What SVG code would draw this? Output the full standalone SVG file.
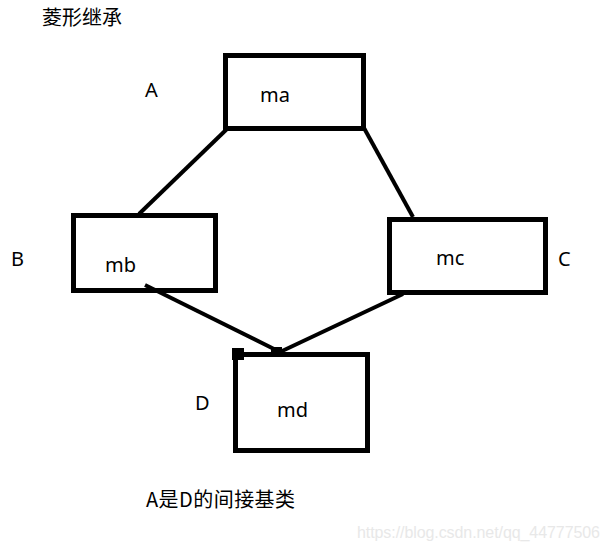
<svg xmlns="http://www.w3.org/2000/svg" width="611" height="553" viewBox="0 0 611 553">
<style>
.box{fill:none;stroke:#000;stroke-width:5}
.ln{stroke:#000;stroke-width:4;fill:none}
.t{font-family:"Noto Sans","Noto Sans CJK SC",sans-serif;font-size:20px;fill:#000}
.c{font-family:"Noto Sans CJK SC","Noto Sans",sans-serif;font-size:20px;fill:#000}
.w{font-family:"Liberation Sans",Arial,sans-serif;font-size:16px;fill:#e8e8e8}
</style>
<rect width="611" height="553" fill="#fff"/>
<text class="c" x="42" y="25">菱形继承</text>
<g id="connectors">
<line class="ln" x1="228" y1="128" x2="139" y2="214"/>
<line class="ln" x1="364" y1="128" x2="413" y2="217"/>
<line class="ln" x1="145" y1="285" x2="278" y2="351"/>
<line class="ln" x1="403" y1="294" x2="280" y2="352"/>
<rect x="271" y="347" width="11" height="6" fill="#000"/>
</g>
<g id="A">
<rect class="box" x="225.5" y="55.5" width="138" height="73"/>
<text class="t" x="260" y="102">ma</text>
<text class="t" x="145" y="97">A</text>
</g>
<g id="B">
<rect class="box" x="73.5" y="215.5" width="142" height="75"/>
<text class="t" x="105" y="272">mb</text>
<text class="t" x="11" y="266">B</text>
</g>
<g id="C">
<rect class="box" x="389.5" y="219.5" width="156" height="73"/>
<text class="t" x="436" y="265">mc</text>
<text class="t" x="558" y="266">C</text>
</g>
<g id="D">
<rect class="box" x="235.5" y="354.5" width="132" height="96"/>
<rect x="232" y="348" width="12" height="12" fill="#000"/>
<text class="t" x="277" y="417">md</text>
<text class="t" x="195" y="410">D</text>
</g>
<text class="c" x="146" y="507" textLength="149">A是D的间接基类</text>
<text class="w" x="357" y="538" textLength="243">https://blog.csdn.net/qq_44777506</text>
</svg>
